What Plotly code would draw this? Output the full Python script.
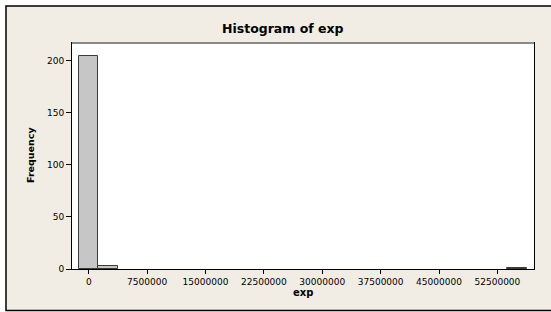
import plotly.graph_objects as go

bin_centers = [0, 2500000, 55000000]
counts = [205, 3, 1]
bin_width = 2500000
x_ticks = [0, 7500000, 15000000, 22500000, 30000000, 37500000, 45000000, 52500000]
y_ticks = [0, 50, 100, 150, 200]

W, H = 551, 312
L, R, T, B = 72, 17, 43, 43
pw, ph = W - L - R, H - T - B

def px(xp):
    return (xp - L) / pw

def py(yp):
    return (H - B - yp) / ph

fig = go.Figure()
fig.add_trace(go.Bar(
    x=bin_centers, y=counts, width=[bin_width] * len(bin_centers),
    marker=dict(color="#C6C6C6", line=dict(color="#3A3A3A", width=1)),
))

font = "DejaVu Sans"
fig.update_layout(
    width=W, height=H,
    margin=dict(l=L, r=R, t=T, b=B),
    paper_bgcolor="#FFFFFF",
    plot_bgcolor="#FFFFFF",
    showlegend=False,
    bargap=0,
    font=dict(family=font, size=9, color="#000000"),
    xaxis=dict(
        range=[-2150000, 57200000],
        tickvals=x_ticks, ticktext=[str(v) for v in x_ticks],
        ticks="outside", ticklen=4, tickcolor="#000000",
        showline=True, linecolor="#000000", linewidth=1, mirror=True,
        showgrid=False, zeroline=False,
        tickfont=dict(family=font, size=9),
    ),
    yaxis=dict(
        range=[0, 217],
        tickvals=y_ticks,
        ticks="outside", ticklen=5, tickcolor="#000000",
        showline=True, linecolor="#000000", linewidth=1, mirror=True,
        showgrid=False, zeroline=False,
        tickfont=dict(family=font, size=9),
    ),
    shapes=[
        dict(type="rect", xref="paper", yref="paper",
             x0=px(6), x1=px(W + 5), y0=py(310.5), y1=py(6),
             fillcolor="#F1EDE5",
             line=dict(color="#000000", width=1.5), layer="below"),
        dict(type="rect", xref="paper", yref="paper",
             x0=0, x1=1, y0=0, y1=1,
             fillcolor="#FFFFFF", line=dict(width=0), layer="below"),
        dict(type="line", xref="paper", yref="paper",
             x0=0, x1=1, y0=1, y1=1,
             line=dict(color="#8A8A8A", width=2)),
    ],
    annotations=[
        dict(text="<b>Histogram of exp</b>", xref="paper", yref="paper",
             x=px(282.5), y=py(28), xanchor="center", yanchor="middle",
             showarrow=False, font=dict(family=font, size=12.5, color="#000000")),
        dict(text="<b>Frequency</b>", xref="paper", yref="paper",
             x=px(30), y=py(155), xanchor="center", yanchor="middle",
             textangle=-90, showarrow=False,
             font=dict(family=font, size=9.5, color="#000000")),
        dict(text="<b>exp</b>", xref="paper", yref="paper",
             x=px(303), y=py(292), xanchor="center", yanchor="middle",
             showarrow=False, font=dict(family=font, size=10, color="#000000")),
    ],
)

fig.write_html(
    "out.html",
    config={"displayModeBar": False},
    post_script="document.body.style.margin='0';document.body.style.overflow='hidden';",
)
